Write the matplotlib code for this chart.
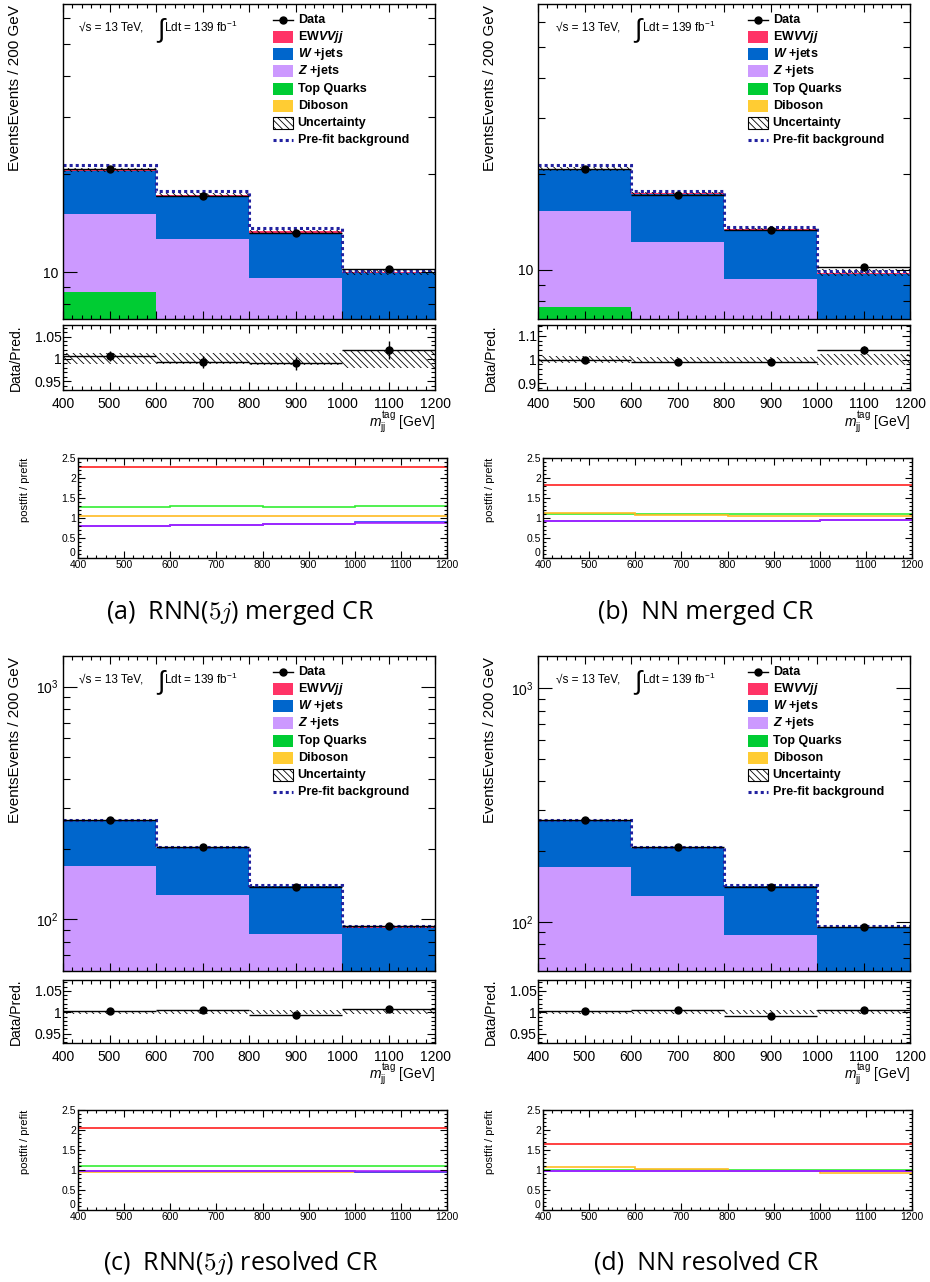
import matplotlib
matplotlib.use("Agg")
import matplotlib.pyplot as plt
import numpy as np
from matplotlib.patches import Rectangle
from matplotlib.lines import Line2D
from matplotlib.ticker import MultipleLocator, FixedLocator, NullFormatter, FuncFormatter, LogLocator

plt.rcParams['font.family'] = ['Liberation Sans', 'DejaVu Sans']
plt.rcParams['mathtext.fontset'] = 'custom'
plt.rcParams['mathtext.rm'] = 'Liberation Sans'
plt.rcParams['mathtext.it'] = 'Liberation Sans:italic'
plt.rcParams['mathtext.bf'] = 'Liberation Sans:bold:italic'
plt.rcParams['hatch.linewidth'] = 0.6

# ---------------- data ----------------
edges = [400, 600, 800, 1000, 1200]
centers = [500, 700, 900, 1100]

# (a) RNN(5j) merged CR
a_data = [20.7, 17.1, 13.2, 10.2]
a_data_err = [0.23, 0.22, 0.20, 0.20]
a_dib = [2.6, 2.2, 1.8, 1.3]
a_top = [6.1, 3.6, 2.6, 1.6]
a_z = [6.4, 6.8, 5.2, 3.4]
a_w = [5.34, 4.50, 3.61, 3.60]
a_ew = [0.12, 0.12, 0.12, 0.10]
a_prefit = [21.3, 17.7, 13.7, 10.1]
a_unc = [0.012, 0.012, 0.013, 0.020]
a_pf_ew = [2.28, 2.28, 2.28, 2.28]
a_pf_w = [0.80, 0.82, 0.85, 0.89]
a_pf_z = [0.81, 0.83, 0.86, 0.87]
a_pf_top = [1.27, 1.29, 1.28, 1.29]
a_pf_dib = [1.06, 1.06, 1.06, 1.06]

# (b) NN merged CR
b_data = [20.7, 17.2, 13.3, 10.2]
b_data_err = [0.25, 0.22, 0.20, 0.17]
b_dib = [2.4, 2.0, 1.6, 1.2]
b_top = [5.26, 3.4, 2.4, 1.5]
b_z = [7.64, 6.8, 5.37, 3.3]
b_w = [5.28, 5.05, 3.94, 3.71]
b_ew = [0.12, 0.12, 0.12, 0.10]
b_prefit = [21.3, 17.7, 13.6, 9.95]
b_unc = [0.014, 0.010, 0.010, 0.024]
b_pf_ew = [1.82, 1.82, 1.82, 1.82]
b_pf_w = [0.92, 0.92, 0.92, 0.95]
b_pf_z = [0.93, 0.93, 0.92, 0.95]
b_pf_top = [1.10, 1.09, 1.09, 1.09]
b_pf_dib = [1.12, 1.07, 1.06, 1.06]

# (c) RNN(5j) resolved CR
c_data = [266.5, 204.0, 138.0, 93.3]
c_data_err = [1.1, 1.0, 0.8, 0.5]
c_dib = [10.0, 8.0, 6.0, 4.0]
c_top = [15.0, 12.0, 9.0, 6.0]
c_z = [144.6, 107.2, 71.5, 45.0]
c_w = [95.3, 75.0, 52.0, 37.1]
c_ew = [0.5, 0.5, 0.5, 0.5]
c_prefit = [268.0, 205.0, 140.0, 93.5]
c_unc = [0.004, 0.004, 0.005, 0.005]
c_pf_ew = [2.05, 2.05, 2.05, 2.05]
c_pf_w = [0.97, 0.97, 0.97, 0.96]
c_pf_z = [0.965, 0.965, 0.965, 0.965]
c_pf_top = [1.11, 1.11, 1.11, 1.11]
c_pf_dib = [0.96, 0.96, 0.96, 0.96]

# (d) NN resolved CR
d_data = [272.0, 208.5, 140.8, 95.2]
d_data_err = [1.1, 1.0, 0.8, 0.5]
d_dib = [10.0, 8.0, 6.0, 4.0]
d_top = [15.0, 12.0, 9.0, 6.0]
d_z = [146.5, 108.9, 72.4, 45.0]
d_w = [99.2, 77.9, 54.2, 39.1]
d_ew = [0.5, 0.5, 0.5, 0.5]
d_prefit = [273.0, 209.0, 143.0, 95.5]
d_unc = [0.004, 0.004, 0.005, 0.005]
d_pf_ew = [1.66, 1.66, 1.66, 1.66]
d_pf_w = [0.97, 0.97, 0.97, 0.975]
d_pf_z = [0.98, 0.98, 0.98, 0.98]
d_pf_top = [1.00, 1.00, 1.01, 1.01]
d_pf_dib = [1.07, 1.02, 0.97, 0.925]

captions = ["(a)  RNN($5j$) merged CR", "(b)  NN merged CR",
            "(c)  RNN($5j$) resolved CR", "(d)  NN resolved CR"]

# ---------------- style ----------------
COL = dict(dib='#ffcc33', top='#00cc33', z='#cc99ff', w='#0066cc', ew='#ff3366')
PFCOL = dict(ew='#ff2020', top='#33ee33', dib='#ffbb22', w='#3333ff', z='#aa22ff')
PREFIT_COL = '#2222a0'

W_PX, H_PX = 930, 1282
fig = plt.figure(figsize=(W_PX / 100, H_PX / 100), dpi=100)
fig.patch.set_facecolor('white')


def add_ax(l, t, w, h):
    return fig.add_axes([l / W_PX, 1 - (t + h) / H_PX, w / W_PX, h / H_PX])


def root_ticks(ax, labelsize=10, pad=3, maj=6, mino=3):
    ax.tick_params(which='both', direction='in', top=True, right=True,
                   labelsize=labelsize, pad=pad, width=0.8)
    ax.tick_params(which='major', length=maj)
    ax.tick_params(which='minor', length=mino)
    for s in ax.spines.values():
        s.set_linewidth(1.0)


def draw_legend(ax):
    labels = ["Data", r"EW$\mathbf{VVjj}$", r"$\mathbf{W}\ $+jets", r"$\mathbf{Z}\ $+jets",
              "Top Quarks", "Diboson", "Uncertainty", "Pre-fit background"]
    y0, dy = 0.949, 0.0544
    x0, x1 = 0.5645, 0.618
    hh = 0.038
    for i, lab in enumerate(labels):
        y = y0 - i * dy
        if i == 0:
            ax.add_line(Line2D([x0, x1], [y, y], color='k', lw=1, transform=ax.transAxes))
            ax.add_line(Line2D([(x0 + x1) / 2], [y], color='k', marker='o', ms=5,
                               transform=ax.transAxes))
        elif i in (1, 2, 3, 4, 5):
            c = [COL['ew'], COL['w'], COL['z'], COL['top'], COL['dib']][i - 1]
            ax.add_patch(Rectangle((x0, y - hh / 2), x1 - x0, hh, transform=ax.transAxes,
                                   facecolor=c, edgecolor='none'))
        elif i == 6:
            ax.add_patch(Rectangle((x0, y - hh / 2), x1 - x0, hh, transform=ax.transAxes,
                                   facecolor='white', edgecolor='black', hatch='\\\\\\\\\\',
                                   lw=0.8))
        else:
            ax.add_line(Line2D([x0, x1], [y, y], color=PREFIT_COL, lw=2.2,
                               ls=(0, (1, 1)), transform=ax.transAxes))
        ax.text(0.631, y, lab, transform=ax.transAxes, fontsize=9, fontweight='bold',
                va='center', ha='left')


def draw_panel(col, row, data, derr, dib, top, z, w, ew, prefit, unc,
               ylim, log_fmt, r_ylim, r_ticks, r_minor, pf, caption):
    mleft = [63, 538][col]
    pleft = [78, 543][col]
    mtop = [4, 656][row]
    rtop = [325, 980][row]
    rh = [65, 63][row]
    ptop = [458, 1110][row]
    capy = [612, 1263][row]

    data = np.array(data); derr = np.array(derr)
    comps = [np.array(v) for v in (dib, top, z, w, ew)]
    colors = [COL['dib'], COL['top'], COL['z'], COL['w'], COL['ew']]
    unc = np.array(unc)

    # ---- main ----
    ax = add_ax(mleft, mtop, 372, 315)
    ax.set_yscale('log')
    base = np.full(4, 1e-3)
    for v, c in zip(comps, colors):
        ax.stairs(base + v, edges, baseline=base.copy(), fill=True, color=c, lw=0)
        base = base + v
    total = base
    ax.stairs(total * (1 + unc), edges, baseline=total * (1 - unc), fill=True,
              facecolor='none', edgecolor='black', hatch='\\\\\\\\\\', lw=0)
    ax.stairs(prefit, edges, baseline=None, color=PREFIT_COL, lw=2.2, ls=(0, (1, 1)))
    ax.errorbar(centers, data, yerr=derr, xerr=100, fmt='o', color='k', ms=5,
                lw=1, capsize=0, zorder=5)
    ax.set_xlim(400, 1200)
    ax.set_ylim(*ylim)
    ax.xaxis.set_major_locator(MultipleLocator(100))
    ax.xaxis.set_minor_locator(MultipleLocator(20))
    ax.xaxis.set_major_formatter(NullFormatter())
    ax.yaxis.set_major_locator(LogLocator(base=10))
    ax.yaxis.set_minor_locator(LogLocator(base=10, subs=np.arange(2, 10)))
    ax.yaxis.set_minor_formatter(NullFormatter())
    ax.yaxis.set_major_formatter(FuncFormatter(log_fmt))
    root_ticks(ax, labelsize=10, pad=3)
    ax.tick_params(axis='y', which='major', length=10)
    ax.tick_params(axis='y', which='minor', length=5)
    ax.set_ylabel("EventsEvents / 200 GeV", fontsize=11, loc='top')
    ax.yaxis.set_label_coords(-41 / 372, 0.995)
    draw_legend(ax)
    xs = [(0.043, 0.253, 0.2715), (0.048, 0.259, 0.279)][col]
    ax.text(xs[0], 0.925, "\u221as = 13 TeV,", transform=ax.transAxes, fontsize=8.5,
            va='center', ha='left')
    ax.text(xs[1], 0.920, "\u222b", transform=ax.transAxes, fontsize=19,
            va='center', ha='left')
    ax.text(xs[2], 0.925, r"Ldt = 139 fb$^{\mathrm{-1}}$", transform=ax.transAxes,
            fontsize=8.5, va='center', ha='left')

    # ---- ratio ----
    rx = add_ax(mleft, rtop, 372, rh)
    rx.stairs(1 + unc, edges, baseline=1 - unc, fill=True, facecolor='none',
              edgecolor='black', hatch='\\\\\\\\\\', lw=0)
    rx.errorbar(centers, data / total, yerr=derr / total, xerr=100, fmt='o', color='k',
                ms=5, lw=1, capsize=0, zorder=5)
    rx.set_xlim(400, 1200)
    rx.set_ylim(*r_ylim)
    rx.yaxis.set_major_locator(FixedLocator(r_ticks))
    rx.yaxis.set_minor_locator(MultipleLocator(r_minor))
    rx.yaxis.set_major_formatter(FuncFormatter(lambda v, p: ('%g' % round(v, 3))))
    rx.xaxis.set_major_locator(MultipleLocator(100))
    rx.xaxis.set_minor_locator(MultipleLocator(20))
    root_ticks(rx, labelsize=10, pad=1)
    rx.tick_params(axis='x', pad=5)
    rx.set_ylabel("Data/Pred.", fontsize=10)
    rx.yaxis.set_label_coords(-40 / 372, 0.5)
    rx.set_xlabel(r"$m_{\mathrm{jj}}^{\mathrm{tag}}$ [GeV]", fontsize=10, loc='right')
    rx.xaxis.set_label_coords(1.0, -0.30)

    # ---- postfit / prefit ----
    px = add_ax(pleft, ptop, 369, 100)
    for key in ('ew', 'top', 'dib', 'w', 'z'):
        px.stairs(pf[key], edges, baseline=None, color=PFCOL[key], lw=1.2)
    px.set_xlim(400, 1200)
    px.set_ylim(0, 2.5)
    px.yaxis.set_major_locator(MultipleLocator(0.5))
    px.yaxis.set_minor_locator(MultipleLocator(0.1))
    px.yaxis.set_major_formatter(FuncFormatter(lambda v, p: '' if abs(v) < 1e-9 else '%g' % v))
    px.xaxis.set_major_locator(MultipleLocator(100))
    px.xaxis.set_minor_locator(MultipleLocator(20))
    root_ticks(px, labelsize=7.5, pad=1.5, maj=5, mino=2.5)
    px.text(-0.006, 0.005, "0", transform=px.transAxes, fontsize=7.5,
            ha='right', va='bottom')
    px.set_ylabel("postfit / prefit", fontsize=8, loc='top')
    px.yaxis.set_label_coords(-48 / 369, 1.0)

    fig.text([0.2586, 0.759][col], 1 - capy / H_PX, caption, fontsize=18,
             family='Open Sans', ha='center', va='center', math_fontfamily='cm')


fmt_top = lambda v, p: ('10' if abs(v - 10) < 1e-6 else '')
fmt_bot = lambda v, p: (r'$10^{%d}$' % round(np.log10(v)))

draw_panel(0, 0, a_data, a_data_err, a_dib, a_top, a_z, a_w, a_ew, a_prefit, a_unc,
           (7.18, 66.4), fmt_top, (0.93, 1.076), [0.95, 1.0, 1.05], 0.01,
           dict(ew=a_pf_ew, w=a_pf_w, z=a_pf_z, top=a_pf_top, dib=a_pf_dib), captions[0])
draw_panel(1, 0, b_data, b_data_err, b_dib, b_top, b_z, b_w, b_ew, b_prefit, b_unc,
           (7.02, 68.2), fmt_top, (0.872, 1.146), [0.9, 1.0, 1.1], 0.02,
           dict(ew=b_pf_ew, w=b_pf_w, z=b_pf_z, top=b_pf_top, dib=b_pf_dib), captions[1])
draw_panel(0, 1, c_data, c_data_err, c_dib, c_top, c_z, c_w, c_ew, c_prefit, c_unc,
           (60.0, 1355.0), fmt_bot, (0.928, 1.0756), [0.95, 1.0, 1.05], 0.01,
           dict(ew=c_pf_ew, w=c_pf_w, z=c_pf_z, top=c_pf_top, dib=c_pf_dib), captions[2])
draw_panel(1, 1, d_data, d_data_err, d_dib, d_top, d_z, d_w, d_ew, d_prefit, d_unc,
           (61.5, 1375.0), fmt_bot, (0.928, 1.0756), [0.95, 1.0, 1.05], 0.01,
           dict(ew=d_pf_ew, w=d_pf_w, z=d_pf_z, top=d_pf_top, dib=d_pf_dib), captions[3])

fig.savefig("out.png", dpi=100, facecolor='white')
